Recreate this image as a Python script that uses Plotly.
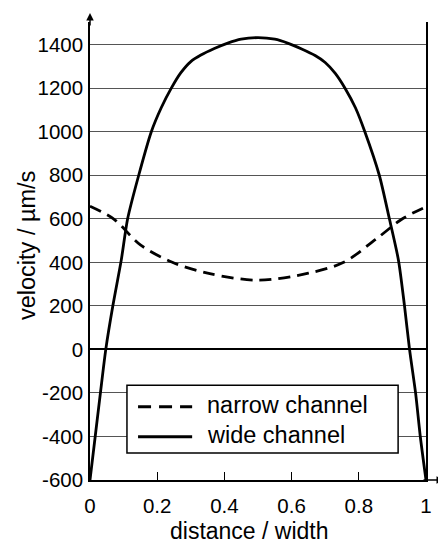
import plotly.graph_objects as go

# Data
wide_x = [0, 0.0155, 0.031, 0.047, 0.068, 0.093, 0.112, 0.145, 0.1825, 0.212, 0.242, 0.27, 0.30, 0.33,
          0.37, 0.41, 0.45, 0.5, 0.55, 0.59, 0.63, 0.67, 0.70, 0.73, 0.759, 0.79, 0.818, 0.861, 0.891,
          0.918, 0.936, 0.951, 0.969, 0.983, 1.0]
wide_y = [-600, -400, -200, 0, 200, 410, 600, 800, 1000, 1110, 1200, 1270, 1322, 1352,
          1382, 1407, 1425, 1432, 1425, 1406, 1380, 1350, 1318, 1268, 1200, 1110, 1000, 800, 600,
          410, 200, 0, -200, -400, -600]

narrow_x = [0, 0.07, 0.15, 0.245, 0.35, 0.5, 0.65, 0.755, 0.85, 0.93, 1.0]
narrow_y = [658, 600, 480, 400, 350, 318, 350, 400, 505, 600, 655]

x_ticks = [0, 0.2, 0.4, 0.6, 0.8, 1]
x_ticktext = ["0", "0.2", "0.4", "0.6", "0.8", "1"]
y_ticks = [-600, -400, -200, 0, 200, 400, 600, 800, 1000, 1200, 1400]
y_ticktext = ["-600", "-400", "-200", "0", "200", "400", "600", "800", "1000", "1200", "1400"]

series_names = ["narrow channel", "wide channel"]
x_title = "distance / width"
y_title = "velocity / µm/s"

FONT = "Liberation Sans, Arial, Helvetica, sans-serif"

fig = go.Figure()
fig.add_trace(go.Scatter(x=narrow_x, y=narrow_y, mode="lines", name=series_names[0],
                         line=dict(color="black", width=2.8, dash="12px,7px", shape="spline", smoothing=0.9),
                         showlegend=False))
fig.add_trace(go.Scatter(x=wide_x, y=wide_y, mode="lines", name=series_names[1],
                         line=dict(color="black", width=2.8, shape="spline", smoothing=0.7),
                         showlegend=False))

# custom legend (box, samples, labels)
lx0, lx1, ly0, ly1 = 0.110, 0.917, 0.059, 0.207
fig.add_shape(type="rect", xref="paper", yref="paper", x0=lx0, x1=lx1, y0=ly0, y1=ly1,
              line=dict(color="black", width=1.5), fillcolor="white", layer="above")
for yy, dash, name in [(0.160, "13px,8px", series_names[0]), (0.0945, "solid", series_names[1])]:
    fig.add_shape(type="line", xref="paper", yref="paper", x0=0.143, x1=0.304, y0=yy, y1=yy,
                  line=dict(color="black", width=3, dash=dash), layer="above")
    fig.add_annotation(xref="paper", yref="paper", x=0.343, y=yy + 0.004, text=name,
                       showarrow=False, xanchor="left", yanchor="middle",
                       font=dict(family=FONT, size=23.5, color="black"))

# axis arrows
fig.add_annotation(xref="paper", yref="paper", x=0, y=1 + 9 / 458, ax=0, ay=14, text="",
                   showarrow=True, arrowhead=2, arrowsize=1, arrowwidth=1.5, arrowcolor="black")
fig.add_annotation(xref="paper", yref="paper", x=(444 - 90) / 336, y=0, ax=-22, ay=0, text="",
                   showarrow=True, arrowhead=2, arrowsize=1, arrowwidth=1.5, arrowcolor="black")

# axis titles
fig.add_annotation(xref="paper", yref="paper", x=(27 - 90) / 336, y=(480 - 246) / 458,
                   text=y_title, textangle=-90, showarrow=False, xanchor="center", yanchor="middle",
                   font=dict(family=FONT, size=23.5, color="black"))
fig.add_annotation(xref="paper", yref="paper", x=(249 - 90) / 336, y=(480 - 531) / 458,
                   text=x_title, showarrow=False, xanchor="center", yanchor="middle",
                   font=dict(family=FONT, size=23, color="black"))

fig.update_layout(
    width=438, height=538,
    margin=dict(l=82, r=20, t=14, b=66, autoexpand=False),
    paper_bgcolor="white", plot_bgcolor="white",
    font=dict(family=FONT, size=20.5, color="black"),
    xaxis=dict(range=[0, 1], tickvals=x_ticks, ticktext=x_ticktext, showgrid=False, zeroline=False,
               ticks="inside", ticklen=8, tickwidth=1.2, tickcolor="black", ticklabelstandoff=7,
               showline=True, linecolor="black", linewidth=1.5, automargin=False),
    yaxis=dict(range=[-600, 1504], tickvals=y_ticks, ticktext=y_ticktext,
               showgrid=True, gridcolor="#555555", gridwidth=1.2,
               zeroline=True, zerolinecolor="black", zerolinewidth=1.5,
               ticks="", showline=True, mirror=True, linecolor="black", linewidth=1.5,
               ticklabelstandoff=1, automargin=False),
)

fig.write_html("out.html")
